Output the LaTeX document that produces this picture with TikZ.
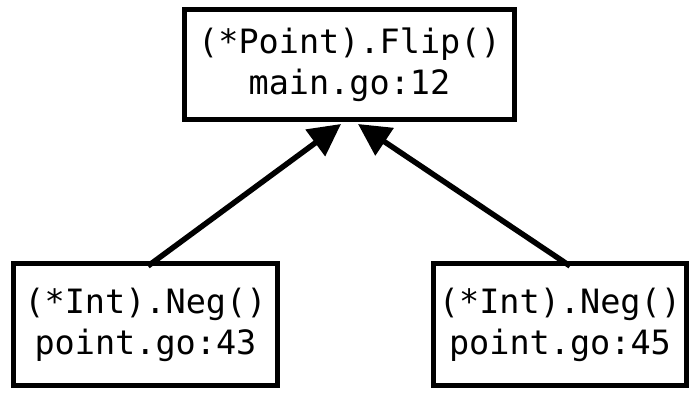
\documentclass[tikz,border=0pt]{standalone}
\usepackage{fontspec}
\setmonofont{DejaVu Sans Mono}
\usetikzlibrary{arrows.meta}
\begin{document}
\begin{tikzpicture}[x=1pt,y=1pt,
  fn/.style={draw=black,line width=5.5pt,fill=white,font=\ttfamily\fontsize{33.5}{41}\selectfont,
    align=center,inner sep=0pt},
  call/.style={line width=5.5pt,-{Triangle[length=32pt,width=32pt]}}]
\useasboundingbox (0,0) rectangle (698,396);
\node[fn,minimum width=330pt,minimum height=110pt] (flip) at (349.5,331.5) {(*Point).Flip()\\main.go:12};
\node[fn,minimum width=264pt,minimum height=122pt] (neg1) at (145.5,71.5) {(*Int).Neg()\\point.go:43};
\node[fn,minimum width=253pt,minimum height=122pt] (neg2) at (560,71.5) {(*Int).Neg()\\point.go:45};
\coordinate (s1) at (148,130);
\coordinate (s2) at (570,130);
\coordinate (t1) at (341,272);
\coordinate (t2) at (358,272);
\draw[call] (s1) -- (t1);
\draw[call] (s2) -- (t2);
\end{tikzpicture}
\end{document}
